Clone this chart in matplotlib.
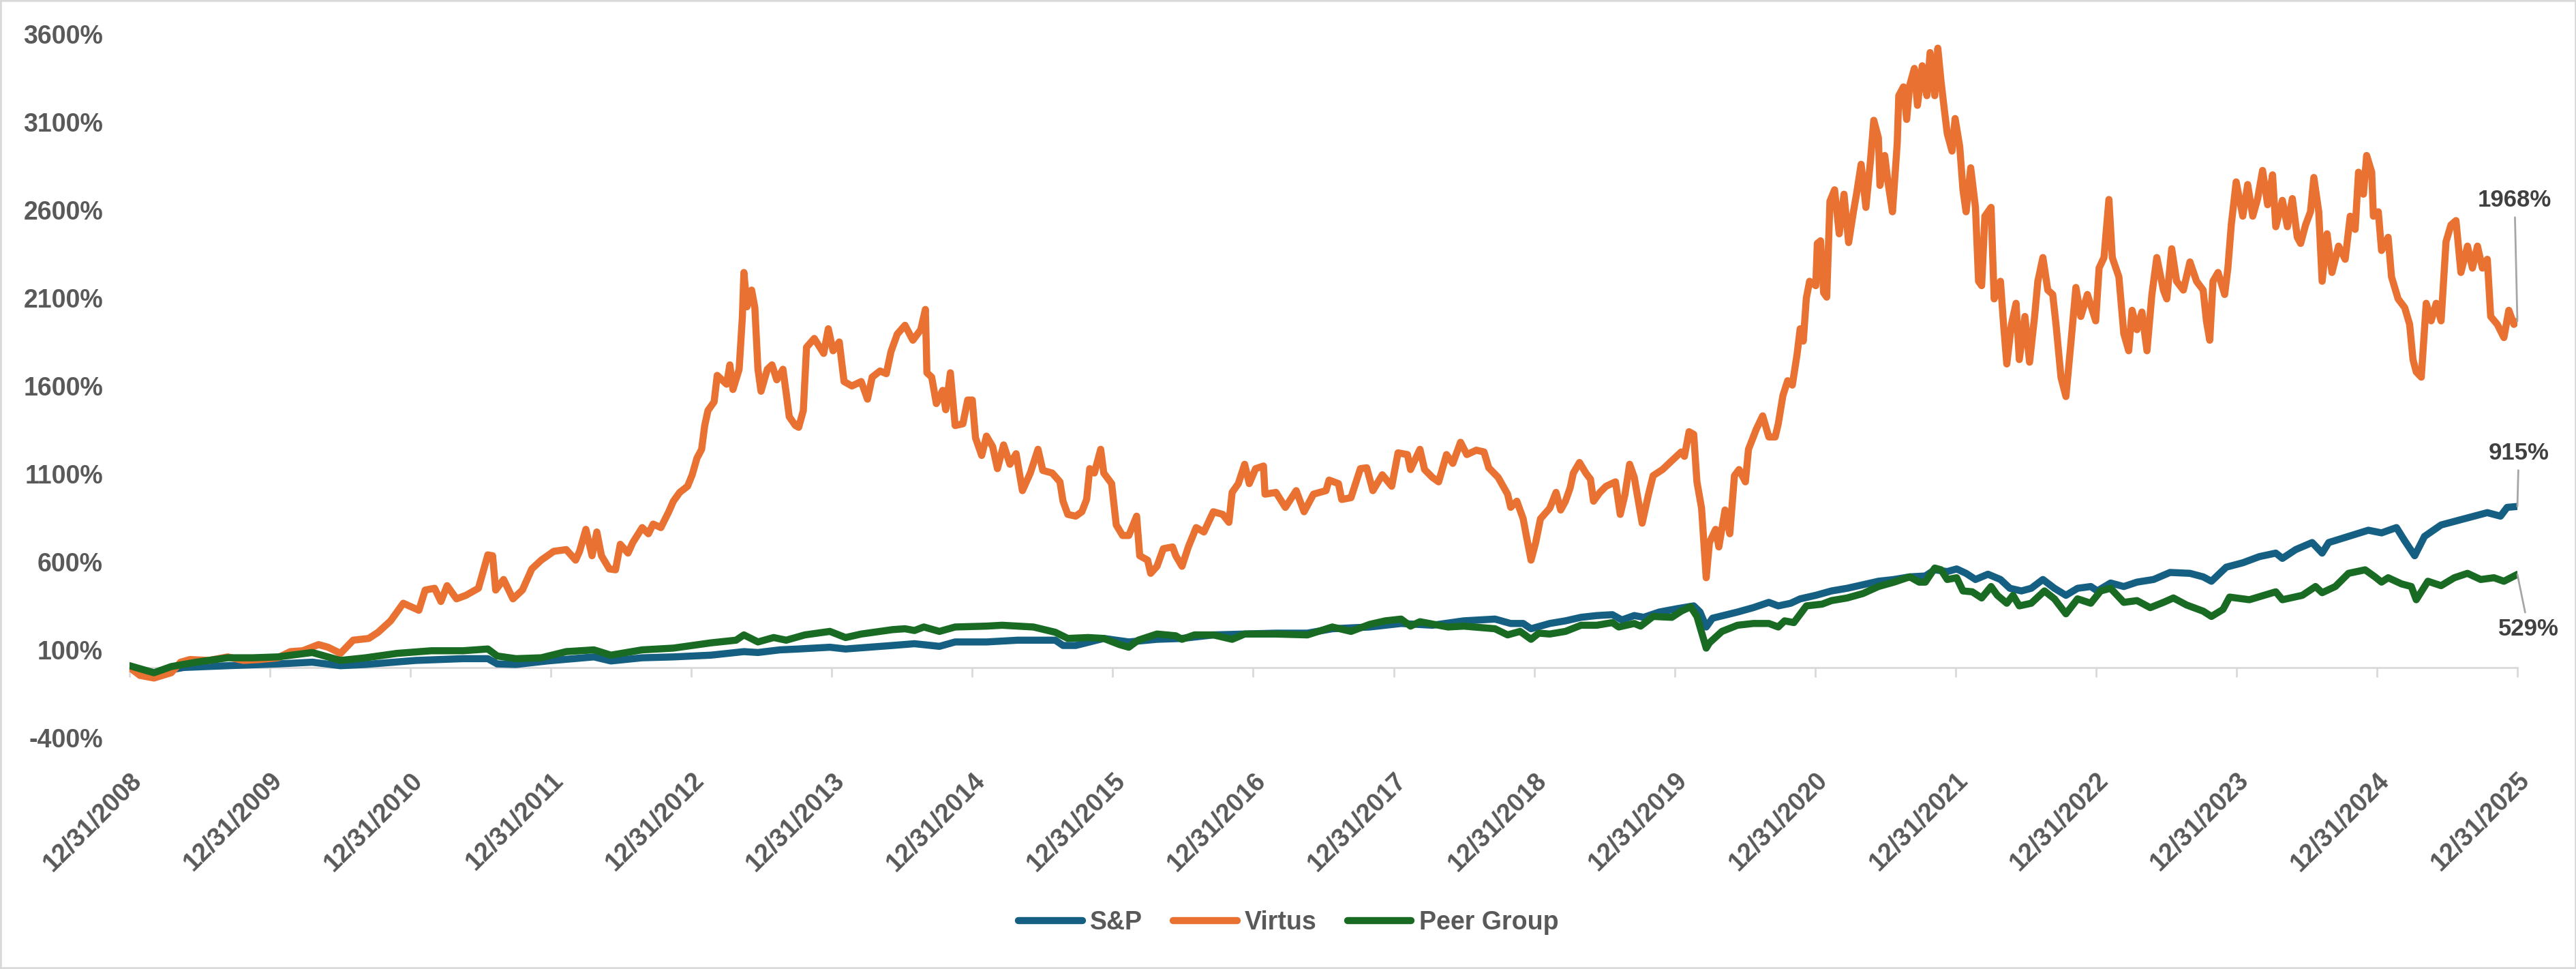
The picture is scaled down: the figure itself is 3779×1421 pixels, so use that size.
import numpy as np
import matplotlib
matplotlib.use("Agg")
import matplotlib.pyplot as plt
from matplotlib.patches import Rectangle

# years since 12/31/2008 -> cumulative return (%)
virtus_t = [0, 0.074, 0.174, 0.297, 0.364, 0.431, 0.565, 0.699, 0.81, 0.922,
            1.056, 1.145, 1.234, 1.346, 1.413, 1.502, 1.592, 1.703, 1.77, 1.859, 1.949,
            2.06, 2.105, 2.172, 2.217, 2.261, 2.328, 2.395, 2.484, 2.551, 2.585, 2.607, 2.663, 2.73, 2.797, 2.864, 2.931,
            3.02, 3.109, 3.176, 3.204, 3.249, 3.293, 3.327, 3.36, 3.416, 3.46, 3.494, 3.549, 3.583, 3.65, 3.694, 3.728, 3.783, 3.839, 3.872, 3.917, 3.973,
            4.006, 4.04, 4.073, 4.095, 4.118, 4.162, 4.184, 4.251, 4.274, 4.296, 4.34, 4.363, 4.374, 4.396, 4.429, 4.452, 4.474, 4.496, 4.541, 4.574, 4.608, 4.652, 4.675, 4.697, 4.741, 4.764, 4.797, 4.82, 4.875, 4.942, 4.975,
            5.009, 5.053, 5.087, 5.143, 5.209, 5.254, 5.287, 5.343, 5.388, 5.421, 5.466, 5.521, 5.577, 5.633, 5.666, 5.677, 5.711, 5.744, 5.789, 5.811, 5.844, 5.878, 5.933, 5.967,
            6.0, 6.023, 6.067, 6.101, 6.145, 6.179, 6.223, 6.268, 6.312, 6.357, 6.413, 6.468, 6.502, 6.569, 6.624, 6.646, 6.68, 6.736, 6.78, 6.814, 6.836, 6.869, 6.914, 6.936, 6.992,
            7.025, 7.07, 7.114, 7.17, 7.192, 7.248, 7.27, 7.315, 7.36, 7.426, 7.449, 7.493, 7.538, 7.594, 7.649, 7.716, 7.783, 7.827, 7.85, 7.894, 7.939, 7.972,
            8.017, 8.073, 8.084, 8.162, 8.229, 8.306, 8.362, 8.429, 8.518, 8.54, 8.607, 8.63, 8.696, 8.763, 8.808, 8.852, 8.919, 8.986,
            9.031, 9.098, 9.12, 9.187, 9.22, 9.276, 9.32, 9.376, 9.421, 9.476, 9.521, 9.588, 9.643, 9.677, 9.744, 9.811, 9.833, 9.877, 9.922, 9.944, 9.978,
            10.011, 10.045, 10.111, 10.156, 10.189, 10.223, 10.256, 10.279, 10.323, 10.368, 10.401, 10.423, 10.468, 10.512, 10.579, 10.613, 10.646, 10.68, 10.713, 10.769, 10.813, 10.847, 10.914, 10.98,
            11.047, 11.07, 11.103, 11.136, 11.159, 11.192, 11.225, 11.248, 11.292, 11.315, 11.359, 11.393, 11.426, 11.459, 11.504, 11.526, 11.582, 11.627, 11.671, 11.716, 11.738, 11.771, 11.805, 11.838, 11.872, 11.894, 11.916, 11.938, 11.961,
            12.005, 12.016, 12.039, 12.061, 12.083, 12.106, 12.139, 12.172, 12.206, 12.239, 12.273, 12.295, 12.328, 12.362, 12.395, 12.418, 12.451, 12.462, 12.496, 12.518, 12.551, 12.585, 12.596, 12.629, 12.652, 12.674, 12.707, 12.729, 12.763, 12.796, 12.819, 12.852, 12.874, 12.897, 12.919, 12.941, 12.975, 12.997,
            13.03, 13.053, 13.075, 13.108, 13.142, 13.164, 13.186, 13.209, 13.253, 13.275, 13.32, 13.342, 13.365, 13.398, 13.431, 13.454, 13.494, 13.527, 13.563, 13.586, 13.622, 13.657, 13.692, 13.716, 13.751, 13.786, 13.822, 13.857, 13.892, 13.939, 13.998,
            14.022, 14.057, 14.092, 14.116, 14.163, 14.198, 14.233, 14.257, 14.292, 14.327, 14.363, 14.398, 14.433, 14.48, 14.504, 14.539, 14.574, 14.622, 14.669, 14.716, 14.763, 14.786, 14.81, 14.833, 14.869, 14.916, 14.939, 14.963, 14.998,
            15.045, 15.08, 15.116, 15.151, 15.186, 15.222, 15.257, 15.28, 15.327, 15.363, 15.398, 15.433, 15.457, 15.492, 15.527, 15.551, 15.586, 15.61, 15.645, 15.68, 15.727, 15.774, 15.81, 15.845, 15.869, 15.904, 15.927, 15.963, 15.975,
            16.01, 16.033, 16.08, 16.104, 16.151, 16.198, 16.233, 16.257, 16.28, 16.316, 16.351, 16.386, 16.422, 16.457, 16.492, 16.527, 16.563, 16.598, 16.645, 16.68, 16.716, 16.751, 16.786, 16.81, 16.857, 16.904, 16.939, 16.975, 17.0]
virtus_v = [0, -45, -60, -30, 30, 45, 40, 60, 40, 45,
            55, 90, 95, 130, 115, 80, 155, 165, 200, 265, 365,
            325, 440, 450, 375, 465, 390, 410, 450, 640, 635, 440, 500, 390, 440, 560, 610,
            660, 670, 610, 660, 785, 635, 770, 635, 560, 555, 700, 650, 710, 795, 760, 815, 795, 885, 945, 995, 1030,
            1095, 1190, 1240, 1375, 1460, 1510, 1660, 1610, 1720, 1580, 1695, 1990, 2245, 2050, 2145, 2045, 1695, 1570, 1695, 1720, 1635, 1695, 1560, 1425, 1375, 1365, 1460, 1820, 1870, 1785, 1925,
            1800, 1850, 1625, 1600, 1625, 1525, 1650, 1685, 1670, 1795, 1895, 1945, 1860, 1920, 2035, 1675, 1650, 1500, 1575, 1465, 1675, 1375, 1385, 1520,
            1520, 1305, 1205, 1315, 1255, 1130, 1265, 1155, 1215, 1005, 1105, 1240, 1120, 1105, 1055, 945, 870, 860, 885, 955, 1130, 1105, 1240, 1105, 1045,
            810, 750, 750, 860, 635, 610, 535, 575, 675, 685, 635, 575, 685, 795, 770, 885, 870, 825, 995, 1045, 1155, 1045,
            1130, 1145, 985, 995, 910, 1005, 885, 985, 1005, 1065, 1045, 955, 965, 1130, 1135, 1005, 1095, 1030,
            1220, 1210, 1125, 1240, 1125, 1080, 1055, 1210, 1160, 1280, 1210, 1235, 1225, 1135, 1080, 985, 910, 945, 845, 750, 610,
            710, 845, 905, 995, 895, 945, 1020, 1105, 1165, 1105, 1070, 945, 995, 1030, 1055, 870, 980, 1155, 1080, 820, 980, 1090, 1125, 1175,
            1225, 1200, 1340, 1325, 1055, 905, 510, 710, 785, 685, 895, 760, 1090, 1125, 1055, 1240, 1355, 1430, 1310, 1310, 1385, 1545, 1630, 1605, 1780, 1925, 1855, 2100, 2195,
            2170, 2410, 2425, 2130, 2105, 2650, 2715, 2465, 2690, 2415, 2590, 2690, 2860, 2615, 2885, 3110, 3010, 2740, 2910, 2765, 2590, 2980, 3250, 3300, 3115, 3310, 3405, 3195, 3420, 3250, 3495, 3250, 3520, 3330, 3180, 3035, 2935, 3120,
            2960, 2715, 2590, 2840, 2615, 2195, 2170, 2565, 2615, 2095, 2195, 1950, 1725, 1950, 2070, 1750, 1995, 1735, 1995, 2195, 2330, 2145, 2120, 1945, 1648, 1540, 1850, 2160, 1995, 2120, 1970,
            2270, 2330, 2660, 2330, 2220, 1897, 1800, 2030, 1920, 2020, 1800, 2120, 2330, 2145, 2095, 2380, 2195, 2145, 2305, 2195, 2145, 1970, 1860, 2195, 2245, 2120, 2270, 2515, 2760,
            2565, 2745, 2565, 2665, 2825, 2630, 2800, 2505, 2655, 2505, 2665, 2445, 2410, 2515, 2590, 2785, 2590, 2195, 2465, 2245, 2395, 2320, 2565, 2490, 2815, 2690, 2910, 2815, 2565,
            2590, 2370, 2445, 2220, 2095, 2045, 1950, 1750, 1680, 1650, 2070, 1970, 2070, 1970, 2420, 2515, 2540, 2245, 2395, 2270, 2395, 2270, 2320, 1995, 1950, 1875, 2030, 1950, 1968]

sp_t = [0, 0.174, 0.386, 0.699, 1.056, 1.301, 1.502, 1.681, 2.038, 2.373, 2.551, 2.618, 2.752, 2.975,
        3.306, 3.427, 3.65, 3.872, 4.14, 4.374, 4.474, 4.63, 4.764, 4.986, 5.098, 5.432, 5.588, 5.766, 5.878,
        6.101, 6.323, 6.591, 6.646, 6.736, 6.936, 7.114, 7.315, 7.493, 7.716, 7.939, 8.162, 8.385, 8.563, 8.83,
        9.053, 9.276, 9.499, 9.721, 9.833, 9.922, 9.978, 10.111, 10.223, 10.334, 10.446, 10.557, 10.624, 10.713, 10.78, 10.891,
        11.025, 11.136, 11.181, 11.225, 11.27, 11.448, 11.56, 11.671, 11.738, 11.827, 11.894, 12.005, 12.117, 12.228, 12.34, 12.451, 12.562, 12.674, 12.785, 12.852, 12.941,
        13.008, 13.075, 13.142, 13.231, 13.32, 13.387, 13.469, 13.539, 13.622, 13.704, 13.786, 13.869, 13.963, 14.01, 14.104, 14.198, 14.292, 14.41, 14.527, 14.669, 14.763, 14.822, 14.927,
        15.045, 15.163, 15.28, 15.327, 15.422, 15.539, 15.61, 15.657, 15.798, 15.939, 16.033, 16.139, 16.198, 16.269, 16.339, 16.457, 16.574, 16.692, 16.786, 16.88, 16.927, 17.0]
sp_v = [0, -30, 0, 10, 20, 30, 10, 17, 40, 50, 50, 20, 17, 37,
        60, 37, 55, 60, 70, 90, 85, 100, 105, 115, 105, 125, 135, 120, 145,
        145, 155, 155, 125, 125, 165, 145, 160, 165, 185, 190, 195, 195, 220, 230,
        250, 240, 265, 275, 250, 250, 220, 250, 265, 285, 295, 300, 270, 295, 285, 315,
        335, 350, 315, 230, 280, 315, 340, 370, 350, 365, 390, 410, 435, 450, 470, 490, 500, 515, 520, 555, 545,
        560, 535, 500, 530, 500, 450, 435, 450, 500, 450, 410, 450, 460, 435, 480, 460, 485, 500, 540, 535, 515, 490, 570,
        595, 630, 650, 620, 670, 710, 650, 710, 745, 780, 765, 795, 720, 635, 745, 810, 835, 860, 880, 860, 910, 915]

peer_t = [0, 0.174, 0.297, 0.475, 0.699, 0.877, 1.056, 1.301, 1.502, 1.681, 1.904, 2.15, 2.373, 2.551, 2.618, 2.752, 2.931,
          3.109, 3.306, 3.427, 3.65, 3.872, 4.14, 4.318, 4.374, 4.474, 4.586, 4.675, 4.808, 4.986, 5.098, 5.209, 5.432, 5.521, 5.588, 5.655, 5.766, 5.878,
          6.101, 6.212, 6.435, 6.591, 6.68, 6.825, 6.936, 7.048, 7.114, 7.181, 7.315, 7.449, 7.493, 7.582, 7.716, 7.85, 7.939, 8.162, 8.385, 8.563, 8.696, 8.83, 8.941,
          9.053, 9.12, 9.187, 9.387, 9.499, 9.721, 9.811, 9.9, 9.978, 10.033, 10.111, 10.223, 10.334, 10.446, 10.557, 10.602, 10.713, 10.758, 10.847, 10.98,
          11.047, 11.114, 11.159, 11.225, 11.248, 11.337, 11.448, 11.56, 11.671, 11.738, 11.783, 11.849, 11.938, 12.05, 12.117, 12.228, 12.34, 12.451, 12.562, 12.674, 12.741, 12.785, 12.852, 12.897, 12.941,
          13.008, 13.053, 13.119, 13.186, 13.253, 13.298, 13.365, 13.409, 13.454, 13.539, 13.633, 13.704, 13.786, 13.869, 13.963, 14.033, 14.104, 14.198, 14.292, 14.386, 14.48, 14.551, 14.645, 14.763, 14.822, 14.904, 14.951,
          15.092, 15.28, 15.327, 15.469, 15.563, 15.61, 15.704, 15.798, 15.916, 15.986, 16.033, 16.08, 16.175, 16.245, 16.28, 16.363, 16.457, 16.551, 16.645, 16.739, 16.833, 16.904, 17.0]
peer_v = [10, -30, 5, 30, 55, 55, 60, 85, 40, 55, 80, 95, 95, 105, 65, 50, 55,
          90, 100, 70, 100, 110, 140, 155, 185, 145, 170, 155, 185, 205, 170, 190, 215, 220, 210, 230, 205, 230,
          235, 240, 230, 200, 165, 170, 165, 130, 115, 155, 190, 180, 160, 185, 185, 160, 190, 190, 185, 230, 205, 245, 265,
          275, 235, 260, 230, 235, 220, 185, 205, 160, 195, 190, 205, 240, 240, 255, 230, 250, 235, 290, 285,
          320, 345, 290, 110, 140, 205, 240, 250, 250, 230, 265, 255, 350, 360, 380, 395, 420, 460, 485, 515, 485, 485, 565, 555, 500,
          510, 435, 430, 395, 460, 410, 365, 410, 350, 365, 435, 390, 305, 390, 365, 435, 450, 370, 380, 340, 370, 395, 355, 320, 290, 330, 400,
          385, 430, 385, 410, 460, 425, 460, 535, 555, 515, 485, 510, 475, 460, 385, 490, 465, 510, 535, 500, 510, 490, 529]

tick_labels = [f"12/31/{y}" for y in range(2008, 2026)]
y_ticks = list(range(-400, 3601, 500))

col_sp = "#156082"
col_virtus = "#E97132"
col_peer = "#196B24"
txt = "#595959"

plt.rcParams["font.family"] = ["Liberation Sans", "DejaVu Sans"]
plt.rcParams["font.weight"] = "bold"

fig = plt.figure(figsize=(37.8, 14.21), dpi=100)
ax = fig.add_axes([190 / 3780, 1 - 1082 / 1421, (3693 - 190) / 3780, (1082 - 50) / 1421])

lw = 7.5
kw = dict(lw=lw, solid_joinstyle="round", solid_capstyle="round")
ax.plot(sp_t, sp_v, color=col_sp, label="S&P", **kw)
ax.plot(virtus_t, virtus_v, color=col_virtus, label="Virtus", **kw)
ax.plot(peer_t, peer_v, color=col_peer, label="Peer Group", **kw)

ax.set_xlim(0, 17)
ax.set_ylim(-400, 3600)
ax.set_yticks(y_ticks)
ax.set_yticklabels([f"{v}%" for v in y_ticks])
ax.set_xticks(range(len(tick_labels)))
ax.set_xticklabels(tick_labels, rotation=45, ha="right", va="top", rotation_mode="anchor")
ax.tick_params(axis="y", length=0, pad=28, labelsize=27, labelcolor=txt)
ax.tick_params(axis="x", length=0, pad=32, labelsize=27, labelcolor=txt)
for s in ax.spines.values():
    s.set_visible(False)

# category axis line crossing at 0%
sec = ax.secondary_xaxis(0.1)
sec.set_xticks(range(len(tick_labels)))
sec.set_xticklabels([])
sec.tick_params(axis="x", length=10, width=2, color="#D9D9D9")
sec.spines["bottom"].set_color("#D9D9D9")
sec.spines["bottom"].set_linewidth(2)

ends = [(virtus_v[-1], 16.98, 2655), (sp_v[-1], 17.01, 1217), (peer_v[-1], 17.08, 217)]
for v, tx, ty in ends:
    ax.annotate(f"{v}%", xy=(17, v), xytext=(tx, ty), ha="center", va="center",
                fontsize=25, fontweight="bold", color="#404040",
                annotation_clip=False,
                arrowprops=dict(arrowstyle="-", color="#A6A6A6", lw=2, shrinkA=4, shrinkB=0))

fig.legend(loc="center", bbox_to_anchor=(0.5, 1 - 1353 / 1421), ncol=3, frameon=False,
           fontsize=27, handlelength=2.5, handletextpad=0.3, columnspacing=1.2,
           labelcolor=txt)

fig.patches.append(Rectangle((0, 0), 1, 1, transform=fig.transFigure, fill=False,
                             edgecolor="#D9D9D9", lw=4))

fig.savefig("out.png", dpi=100)
